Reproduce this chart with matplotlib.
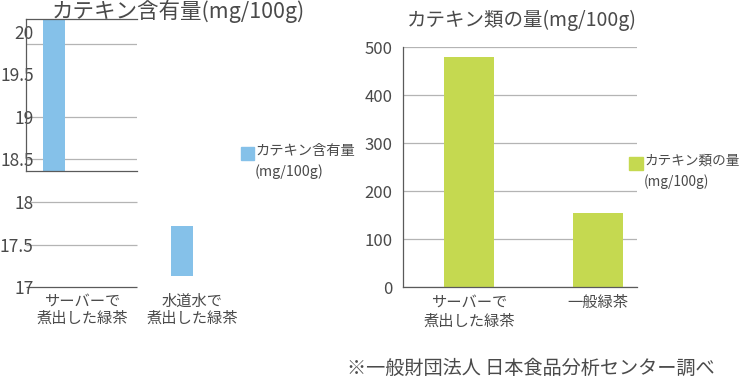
import matplotlib
matplotlib.use("Agg")
import matplotlib.pyplot as plt
from matplotlib.patches import Rectangle

plt.rcParams['font.family'] = ['Noto Sans CJK JP', 'DejaVu Sans']

# ---------------- data ----------------
left_title = "カテキン含有量(mg/100g)"
left_series = "カテキン含有量\n(mg/100g)"
left_categories = ["サーバーで\n煮出した緑茶", "水道水で\n煮出した緑茶"]
left_values = [20.3, 17.72]
left_lower_base = 17.13
left_upper_ticks = [18.5, 19, 19.5, 20]
left_upper_ticklabels = ["18.5", "19", "19.5", "20"]
left_upper_grid = [18.5, 19.0, 19.86]
left_lower_ticks = [17, 17.5, 18]
left_lower_ticklabels = ["17", "17.5", "18"]

right_title = "カテキン類の量(mg/100g)"
right_series = "カテキン類の量\n(mg/100g)"
right_categories = ["サーバーで\n煮出した緑茶", "一般緑茶"]
right_values = [480, 155]
right_ticks = [0, 100, 200, 300, 400, 500]

footer = "※一般財団法人 日本食品分析センター調べ"

# ---------------- style ----------------
W, H = 740, 379
BLUE = "#85C1E9"
GREEN = "#C5D950"
GRID = "#b4b4b4"
SPINE = "#5a5a5a"
TXT = "#4a4a4a"

fig = plt.figure(figsize=(W / 100, H / 100), dpi=100)


def ax_px(x0, y0, x1, y1):
    return fig.add_axes([x0 / W, 1 - y1 / H, (x1 - x0) / W, (y1 - y0) / H])


def fx(x):
    return x / W


def fy(y):
    return 1 - y / H


# ---------- left chart (broken axis) ----------
ppu = 127.5  # pixels per category unit
c0 = 54
xl = (26 - c0) / ppu
x_grid_end = (137 - c0) / ppu
bw = 22 / ppu

# upper panel
up = ax_px(26, 19, 137, 171)
up.set_xlim(xl, x_grid_end)
up.set_ylim(18.358, 20.155)
up.bar([0], [left_values[0]], width=bw, color=BLUE, zorder=2)
for g in left_upper_grid:
    up.axhline(g, color=GRID, lw=0.9, zorder=1)
up.set_yticks(left_upper_ticks)
up.set_yticklabels(left_upper_ticklabels)
up.set_xticks([])
up.tick_params(axis='y', length=0, pad=-5.5, labelsize=12.5, labelcolor=TXT)
for s in ['left', 'top', 'bottom']:
    up.spines[s].set_color(SPINE)
    up.spines[s].set_linewidth(0.9)
up.spines['right'].set_visible(False)
up.patch.set_alpha(0)

# lower panel
lo = ax_px(26, 190, 240, 287)
lo.set_xlim(xl, (240 - c0) / ppu)
lo.set_ylim(17, 17 + 97 / 85)
for g in left_lower_ticks:
    lo.hlines(g, xl, x_grid_end, color=(SPINE if g == left_lower_ticks[0] else GRID),
              lw=0.9, zorder=1, clip_on=False)
lo.bar([1], [left_values[1] - left_lower_base], bottom=left_lower_base,
       width=bw, color=BLUE, zorder=2)
lo.set_yticks(left_lower_ticks)
lo.set_yticklabels(left_lower_ticklabels)
label_pos = [(82 - c0) / ppu, (192 - c0) / ppu]
lo.set_xticks(label_pos)
lo.set_xticklabels(left_categories, fontsize=11, color=TXT, linespacing=1.05)
lo.tick_params(axis='x', length=0, pad=4)
lo.tick_params(axis='y', length=0, pad=-5.5, labelsize=12.5, labelcolor=TXT)
for s in lo.spines.values():
    s.set_visible(False)
lo.patch.set_alpha(0)

fig.text(fx(178), fy(11), left_title, ha='center', va='center', fontsize=15.5, color=TXT)

# left legend
fig.patches.append(Rectangle((fx(241), fy(160)), 13 / W, 13 / H, transform=fig.transFigure,
                             color=BLUE, figure=fig))
fig.text(fx(255), fy(144), left_series, ha='left', va='top', fontsize=10.3, color=TXT,
         linespacing=1.5)

# ---------- right chart ----------
rp = 129
rc0 = 469
ra = ax_px(403, 47, 637, 287)
ra.set_xlim((403 - rc0) / rp, (637 - rc0) / rp)
ra.set_ylim(0, 500)
ra.bar(range(len(right_values)), right_values, width=50 / rp, color=GREEN, zorder=2)
ra.set_yticks(right_ticks)
ra.grid(axis='y', color=GRID, lw=0.9, zorder=0)
ra.set_axisbelow(True)
ra.set_xticks(range(len(right_categories)))
ra.set_xticklabels(right_categories, fontsize=11, color=TXT, linespacing=1.15)
ra.tick_params(axis='x', length=0, pad=5)
ra.tick_params(axis='y', length=0, pad=7.5, labelsize=12, labelcolor=TXT)
for s in ['top', 'right']:
    ra.spines[s].set_visible(False)
for s in ['left', 'bottom']:
    ra.spines[s].set_color(SPINE)
    ra.spines[s].set_linewidth(0.9)

fig.text(fx(522), fy(20), right_title, ha='center', va='center', fontsize=14, color=TXT)

fig.patches.append(Rectangle((fx(629), fy(170)), 14 / W, 13 / H, transform=fig.transFigure,
                             color=GREEN, figure=fig))
fig.text(fx(644), fy(154), right_series, ha='left', va='top', fontsize=9.8, color=TXT,
         linespacing=1.55)

fig.text(fx(347), fy(368), footer, ha='left', va='center', fontsize=13.8, color=TXT)

fig.savefig("out.png", dpi=100)
